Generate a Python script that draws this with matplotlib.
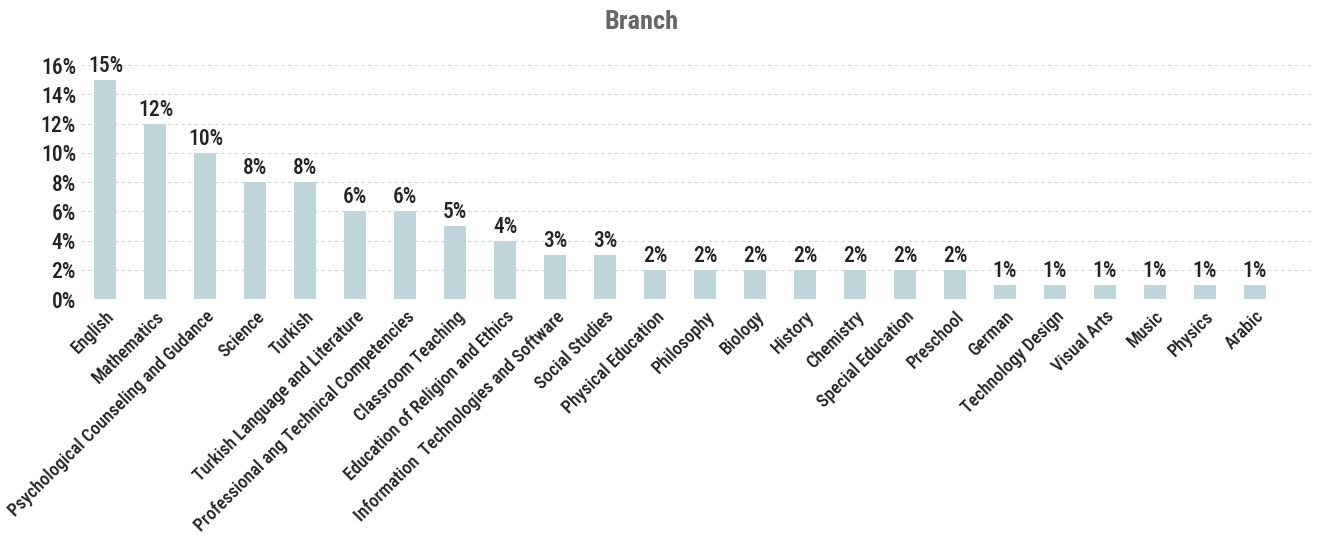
import matplotlib
matplotlib.use("Agg")
import matplotlib.pyplot as plt
from matplotlib import font_manager

names = {f.name for f in font_manager.fontManager.ttflist}
fam = [n for n in ["Liberation Sans Narrow", "Roboto Condensed", "Roboto", "DejaVu Sans"] if n in names]
plt.rcParams['font.family'] = fam

branches = ["English", "Mathematics", "Psychological Counseling and Gudance", "Science", "Turkish",
            "Turkish Language and Literature", "Professional ang Technical Competencies",
            "Classroom Teaching", "Education of Religion and Ethics",
            "Information  Technologies and Software", "Social Studies", "Physical Education",
            "Philosophy", "Biology", "History", "Chemistry", "Special Education", "Preschool",
            "German", "Technology Design", "Visual Arts", "Music", "Physics", "Arabic"]
shares = [15, 12, 10, 8, 8, 6, 6, 5, 4, 3, 3, 2, 2, 2, 2, 2, 2, 2, 1, 1, 1, 1, 1, 1]
yticks = [0, 2, 4, 6, 8, 10, 12, 14, 16]

fig = plt.figure(figsize=(13.36, 5.42), dpi=100)
ax = fig.add_axes([0.061, 0.448, 0.923, 0.432])

x = range(len(branches))
ax.bar(x, shares, width=0.44, color="#bed5da", zorder=2)
for i, v in zip(x, shares):
    ax.text(i, v + 0.2, f"{v}%", ha="center", va="bottom", fontsize=15.5,
            color="#222222", fontweight="medium")

ax.set_xlim(-0.48, 24.2)
ax.set_ylim(0, 16)
ax.set_yticks(yticks)
ax.set_yticklabels([f"{t}%" for t in yticks], fontsize=15.5, color="#222222", fontweight="medium")
ax.set_xticks(list(x))
ax.set_xticklabels(branches, rotation=45, ha="right", rotation_mode="anchor", fontsize=13,
                   color="#222222", fontweight="medium")
ax.tick_params(length=0, pad=4)
ax.tick_params(axis="x", pad=6)
ax.grid(axis="y", color="#d4d4d4", linestyle=(0, (3, 3)), linewidth=0.8, zorder=0)
for s in ax.spines.values():
    s.set_visible(False)

fig.text(0.48, 0.96, "Branch", ha="center", va="center", fontsize=19, color="#666666", fontweight="bold")

fig.savefig("out.png", dpi=100)
